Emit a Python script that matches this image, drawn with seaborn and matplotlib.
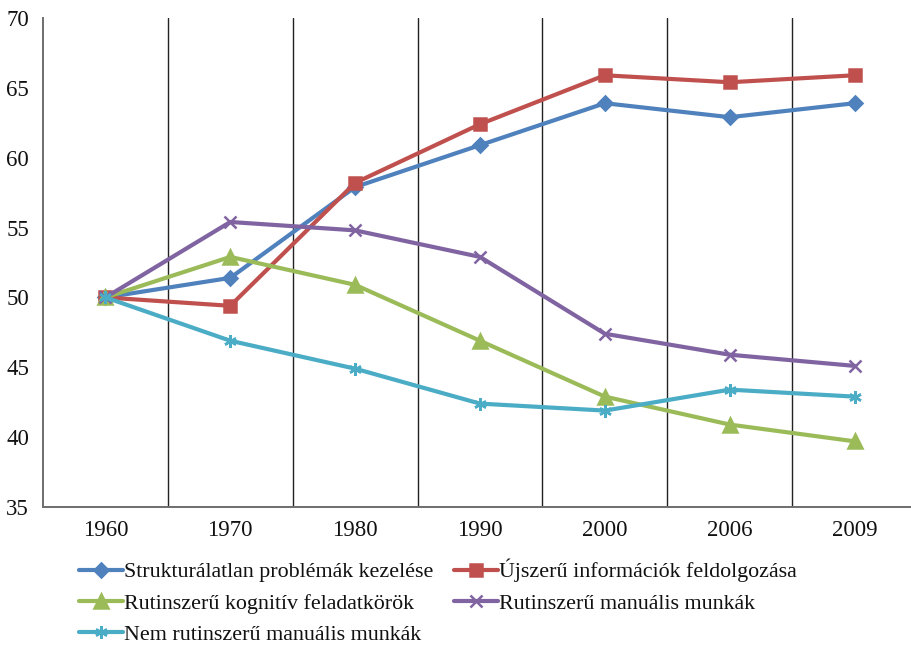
import pandas as pd
import seaborn as sns
import matplotlib
matplotlib.use("Agg")
from matplotlib import pyplot as plt

years = ["1960", "1970", "1980", "1990", "2000", "2006", "2009"]
series_names = [
    "Strukturálatlan problémák kezelése",
    "Újszerű információk feldolgozása",
    "Rutinszerű kognitív feladatkörök",
    "Rutinszerű manuális munkák",
    "Nem rutinszerű manuális munkák",
]
strukturalatlan = [50.0, 51.4, 57.9, 60.9, 63.9, 62.9, 63.9]
ujszeru = [50.0, 49.4, 58.2, 62.4, 65.9, 65.4, 65.9]
rutin_kognitiv = [50.0, 52.9, 50.9, 46.9, 42.9, 40.9, 39.7]
rutin_manualis = [50.0, 55.4, 54.8, 52.9, 47.4, 45.9, 45.1]
nem_rutin_manualis = [50.0, 46.9, 44.9, 42.4, 41.9, 43.4, 42.9]

colors = ["#4F81BD", "#C0504D", "#9BBB59", "#8064A2", "#4BACC6"]
markers = ["D", "s", "^", "x", (6, 2, 0)]
marker_sizes = [7.5, 9, 9.5, 9, 9]


def main():
    sns.set_theme(style="white")
    plt.rcParams["font.family"] = ["Liberation Serif", "DejaVu Serif"]

    fig = plt.figure(figsize=(9.12, 6.47), dpi=100)
    ax = fig.add_axes([43 / 912, 1 - 507 / 647, (917 - 43) / 912, (507 - 18) / 647])

    all_values = [strukturalatlan, ujszeru, rutin_kognitiv, rutin_manualis, nem_rutin_manualis]
    for name, values, color, marker, ms in zip(series_names, all_values, colors,
                                                markers, marker_sizes):
        df = pd.DataFrame({"pos": range(len(years)), "value": values})
        sns.lineplot(data=df, x="pos", y="value", color=color, marker=marker,
                     markersize=ms, markeredgecolor=color, markerfacecolor=color,
                     markeredgewidth=1.8, linewidth=3.0, label=name, ax=ax)

    ax.set_xlim(-0.5, len(years) - 0.5)
    ax.set_ylim(35, 70)
    ax.set_yticks(range(35, 71, 5))
    ax.set_xticks(range(len(years)))
    ax.set_xticklabels(years)
    ax.tick_params(axis="both", labelsize=16.5, length=0, colors="#111111")
    ax.tick_params(axis="x", pad=9)
    ax.tick_params(axis="y", pad=10)
    ax.set_xlabel("")
    ax.set_ylabel("")

    for b in range(len(years) - 1):
        ax.axvline(b + 0.5, color="#222222", linewidth=1.0, zorder=0)

    for side in ["top", "right"]:
        ax.spines[side].set_visible(False)
    for side in ["left", "bottom"]:
        ax.spines[side].set_color("#6e6e6e")
        ax.spines[side].set_linewidth(1.4)

    handles, labels = ax.get_legend_handles_labels()
    ax.get_legend().remove()
    order = [0, 2, 4, 1, 3]
    fig.legend([handles[i] for i in order], [labels[i] for i in order],
               loc="upper left", bbox_to_anchor=(79 / 912, 1 - 559 / 647),
               ncol=2, frameon=False, fontsize=15.8, handlelength=2.0,
               handletextpad=0.05, columnspacing=0.95, labelspacing=0.5,
               borderaxespad=0, borderpad=0, labelcolor="#111111")

    fig.savefig("out.png", dpi=100)


if __name__ == "__main__":
    main()
